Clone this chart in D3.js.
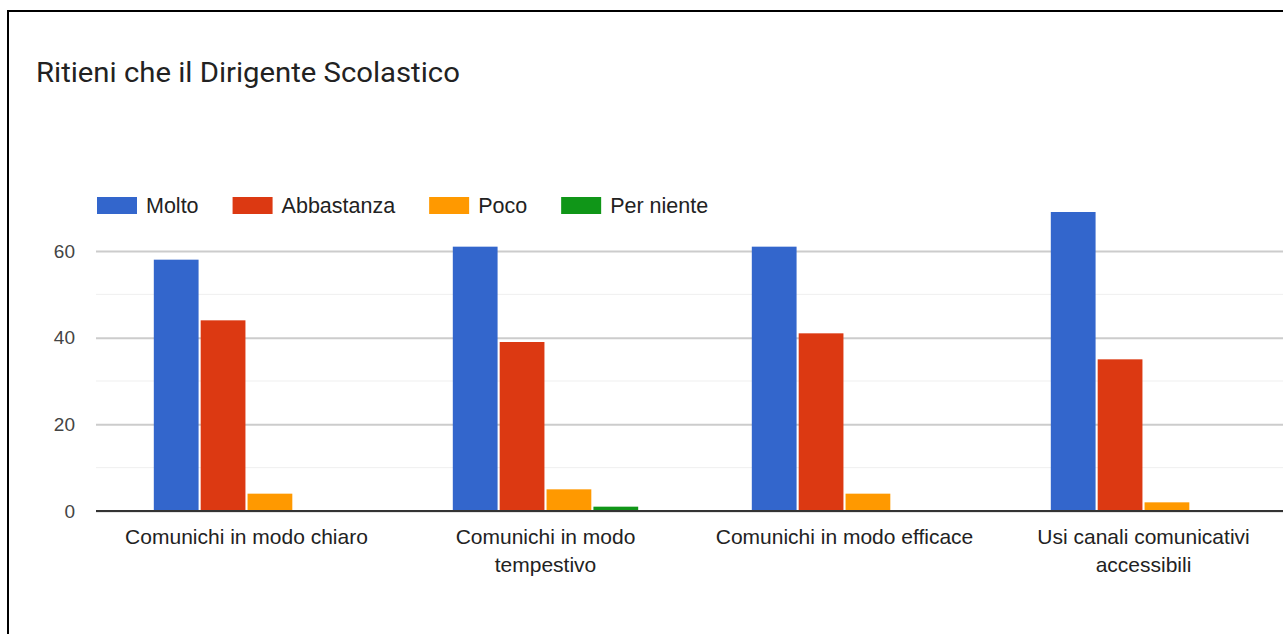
<!DOCTYPE html>
<html>
<head>
<meta charset="utf-8">
<script src="https://cdn.jsdelivr.net/npm/d3@7"></script>
<style>
  html, body { margin: 0; padding: 0; background: #fff; overflow: hidden; }
  svg { display: block; }
</style>
</head>
<body>
<svg id="chart" width="1283" height="634"></svg>
<script>
const title = "Ritieni che il Dirigente Scolastico";
const categories = [
  "Comunichi in modo chiaro",
  "Comunichi in modo tempestivo",
  "Comunichi in modo efficace",
  "Usi canali comunicativi accessibili"
];
const seriesNames = ["Molto", "Abbastanza", "Poco", "Per niente"];
const seriesColors = ["#3366cc", "#dc3912", "#ff9900", "#109618"];
const molto = [58, 61, 61, 69];
const abbastanza = [44, 39, 41, 35];
const poco = [4, 5, 4, 2];
const perNiente = [0, 1, 0, 0];
const majorTicks = [0, 20, 40, 60];
const minorTicks = [10, 30, 50];

const seriesValues = [molto, abbastanza, poco, perNiente];

const svg = d3.select("#chart");
const font = "'Liberation Sans', Arial, sans-serif";

// frame
svg.append("rect")
  .attr("x", 8).attr("y", 11).attr("width", 1300).attr("height", 700)
  .attr("fill", "#fff").attr("stroke", "#000").attr("stroke-width", 2);

// title
svg.append("text")
  .attr("x", 36).attr("y", 82)
  .attr("font-family", "Roboto, 'Open Sans', sans-serif")
  .attr("font-size", 27)
  .attr("fill", "#222")
  .attr("transform", "translate(36,0) scale(1.085,1) translate(-36,0)")
  .text(title);

const plotLeft = 96, plotRight = 1293;
const y = d3.scaleLinear().domain([0, 60]).range([511, 251]);
const x0 = d3.scaleBand().domain(categories).range([97, 1293])
  .paddingInner(0.38).paddingOuter(0.19);
const x1 = d3.scaleBand().domain(seriesNames).range([0, x0.bandwidth()])
  .paddingInner(0.045);
const color = d3.scaleOrdinal().domain(seriesNames).range(seriesColors);

// minor grid
svg.append("g").selectAll("line").data(minorTicks).join("line")
  .attr("x1", plotLeft).attr("x2", plotRight)
  .attr("y1", d => y(d)).attr("y2", d => y(d))
  .attr("stroke", "#efefef").attr("stroke-width", 1);

// major grid + y labels
const yAxis = d3.axisLeft(y).tickValues(majorTicks).tickSize(-(plotRight - plotLeft)).tickPadding(21);
const gy = svg.append("g").attr("transform", `translate(${plotLeft},0)`).call(yAxis);
gy.select(".domain").remove();
gy.selectAll(".tick line").attr("stroke", "#cccccc").attr("stroke-width", 2);
gy.selectAll(".tick text")
  .attr("font-family", font).attr("font-size", 19).attr("fill", "#444");

// bars
const groups = svg.append("g").selectAll("g").data(categories).join("g")
  .attr("transform", d => `translate(${x0(d)},0)`);
groups.selectAll("rect")
  .data((c, i) => seriesNames.map((s, j) => ({ s, v: seriesValues[j][i] })))
  .join("rect")
  .attr("x", d => x1(d.s))
  .attr("width", x1.bandwidth())
  .attr("y", d => y(d.v))
  .attr("height", d => y(0) - y(d.v))
  .attr("fill", d => color(d.s));

// baseline
svg.append("line")
  .attr("x1", plotLeft).attr("x2", plotRight)
  .attr("y1", y(0)).attr("y2", y(0))
  .attr("stroke", "#333").attr("stroke-width", 2);

// x axis labels
const xAxis = d3.axisBottom(x0).tickSize(0).tickPadding(0);
const gx = svg.append("g").attr("transform", `translate(0,${y(0)})`).call(xAxis);
gx.select(".domain").remove();
gx.selectAll(".tick text")
  .attr("font-family", font).attr("font-size", 21).attr("fill", "#222")
  .attr("y", 33).attr("dy", 0)
  .each(function(d) {
    const t = d3.select(this);
    const words = d.split(" ");
    t.text(null);
    let line = [];
    let tspan = t.append("tspan").attr("x", 0).attr("y", 33);
    let lineNo = 0;
    for (const w of words) {
      line.push(w);
      tspan.text(line.join(" "));
      if (tspan.node().getComputedTextLength() > 272 && line.length > 1) {
        line.pop();
        tspan.text(line.join(" "));
        line = [w];
        lineNo++;
        tspan = t.append("tspan").attr("x", 0).attr("y", 33 + lineNo * 28).text(w);
      }
    }
  });

// legend
const legend = svg.append("g").attr("transform", "translate(97,197)");
let lx = 0;
seriesNames.forEach((s, i) => {
  const g = legend.append("g").attr("transform", `translate(${lx},0)`);
  g.append("rect").attr("width", 40).attr("height", 17).attr("fill", color(s));
  const t = g.append("text").attr("x", 49).attr("y", 15.5)
    .attr("font-family", font).attr("font-size", 21.5).attr("fill", "#222").text(s);
  lx += 49 + t.node().getComputedTextLength() + 34;
});
</script>
</body>
</html>
